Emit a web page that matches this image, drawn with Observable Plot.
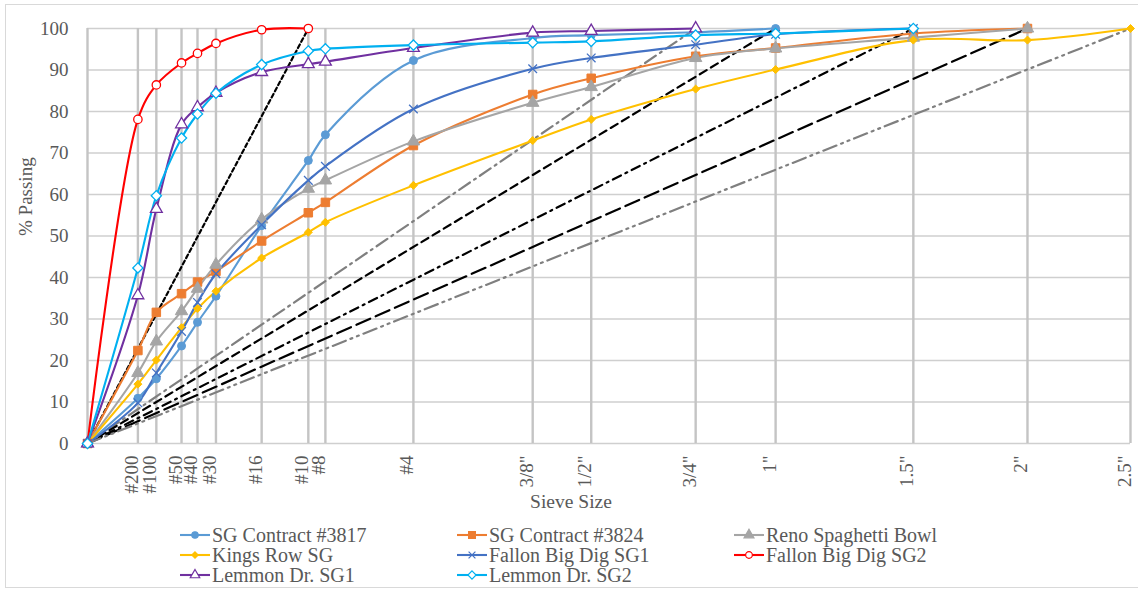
<!DOCTYPE html>
<html><head><meta charset="utf-8">
<script src="https://cdn.jsdelivr.net/npm/d3@7"></script>
<script src="https://cdn.jsdelivr.net/npm/@observablehq/plot@0.6"></script>
<style>
body{margin:0;background:#fff;font-family:"Liberation Serif","Times New Roman",serif;}
#wrap{position:relative;width:1138px;height:590px;overflow:hidden;background:#fff;}
#frame{position:absolute;left:5px;top:4px;width:1140px;height:584px;border:1px solid #d9d9d9;box-sizing:border-box;}
#chart{position:absolute;left:0;top:0;}
.leg{position:absolute;display:flex;align-items:center;font-size:20px;color:#595959;white-space:nowrap;height:20px;}
.leg svg{margin-right:2px;}
</style></head><body>
<div id="wrap"><div id="frame"></div><div id="chart"></div><div id="legend"></div></div>
<script>
// Sieve sizes (mm) and their labels
const sieveLabels = ["#200","#100","#50","#40","#30","#16","#10","#8","#4","3/8\"","1/2\"","3/4\"","1\"","1.5\"","2\"","2.5\""];
const sieveSizes  = [0.075, 0.15, 0.3, 0.425, 0.6, 1.18, 2.0, 2.36, 4.75, 9.5, 12.5, 19, 25, 37.5, 50, 63];
const yTicks = [0,10,20,30,40,50,60,70,80,90,100];

// % passing per sieve (in sieve order, starting at #200); every series also starts at (0,0)
const sg3817   = [10.9, 15.6, 23.5, 29.2, 35.5, 52.5, 68.2, 74.4, 92.3, 97.7, 98.4, 99.1, 100];
const sg3824   = [22.4, 31.6, 36.1, 38.9, 41.5, 48.8, 55.6, 58.1, 71.8, 84.1, 88.0, 93.3, 95.3, 98.8, 100];
const reno     = [17.0, 24.6, 31.9, 37.3, 43.1, 54.0, 61.4, 63.4, 72.8, 82.1, 85.9, 92.9, 95.2, 97.8, 100];
const kingsRow = [14.3, 20.1, 27.9, 32.5, 36.7, 44.7, 50.9, 53.3, 62.2, 73.0, 78.1, 85.4, 90.1, 97.2, 97.2, 100];
const fallon1  = [9.8, 17.0, 27.0, 34.0, 40.9, 52.7, 63.4, 66.8, 80.6, 90.3, 92.9, 96.1, 98.6, 100];
const fallon2  = [78.1, 86.4, 91.7, 94.0, 96.4, 99.7, 100];
const lemmon1  = [35.7, 56.5, 76.9, 81.0, 84.5, 89.5, 91.4, 92.0, 95.3, 99.0, 99.4, 100];
const lemmon2  = [42.3, 59.7, 73.6, 79.4, 84.4, 91.3, 94.6, 95.1, 96.0, 96.6, 96.9, 98.4, 98.8, 100];

const seriesNames = ["SG Contract #3817","SG Contract #3824","Reno Spaghetti Bowl","Kings Row SG","Fallon Big Dig SG1","Fallon Big Dig SG2","Lemmon Dr. SG1","Lemmon Dr. SG2"];
const seriesValues = [sg3817, sg3824, reno, kingsRow, fallon1, fallon2, lemmon1, lemmon2];
const seriesColors = ["#5B9BD5","#ED7D31","#A5A5A5","#FFC000","#4472C4","#FF0000","#7030A0","#00B0F0"];
const seriesSymbols = ["circle","square","triangle","diamond2","times","circle","triangle","diamond2"];
const seriesOpen = [false,false,false,false,false,true,true,true];
const seriesR = [4,4.8,4.6,3.6,4,4.2,4.4,4.6];

// Maximum density lines: max size (mm) reaching 100%
const maxDensitySizes = [2.0, 19, 25, 37.5, 50, 63];
const maxDensityColors = ["#000","#7f7f7f","#000","#000","#000","#7f7f7f"];
const maxDensityDash = ["4,3","13,5,2,5","8,5","9,5,2,5","15,6","14,5,2,5,2,5"];

const font = "'Liberation Serif', 'Times New Roman', serif";
const txt = "#595959";

const marks = [];
marks.push(Plot.ruleY(yTicks, {stroke:"#cfcfcf", strokeWidth:1.6}));
marks.push(Plot.ruleX([0, ...sieveSizes], {stroke:"#c4c4c4", strokeWidth:2.4}));

maxDensitySizes.forEach((d, i) => {
  marks.push(Plot.line([{x:0,y:0},{x:d,y:100}], {x:"x", y:"y", stroke:maxDensityColors[i], strokeWidth:2.2, strokeDasharray:maxDensityDash[i]}));
});

seriesValues.forEach((vals, i) => {
  const pts = [{x:0,y:0}, ...vals.map((v, j) => ({x: sieveSizes[j], y: v}))];
  marks.push(Plot.line(pts, {x:"x", y:"y", stroke:seriesColors[i], strokeWidth:2.1, curve:"catmull-rom"}));
});
seriesValues.forEach((vals, i) => {
  const pts = [{x:0,y:0}, ...vals.map((v, j) => ({x: sieveSizes[j], y: v}))];
  const sym = seriesSymbols[i];
  const open = seriesOpen[i];
  marks.push(Plot.dot(pts, {x:"x", y:"y", symbol: sym, r: seriesR[i],
    fill: sym === "times" ? "none" : (open ? "white" : seriesColors[i]),
    stroke: seriesColors[i], strokeWidth: open || sym === "times" ? 1.3 : 1}));
});

// tick labels
marks.push(Plot.text(yTicks, {y: d => d, text: d => String(d), frameAnchor:"left", textAnchor:"end", dx:-19, fontSize:19, fill:txt, fontFamily:font}));
const sieveData = sieveSizes.map((s, i) => ({mm: s, label: sieveLabels[i]}));
marks.push(Plot.text(sieveData, {x:"mm", text:"label", frameAnchor:"bottom", rotate:-90, textAnchor:"end", dy:12, fontSize:19, fill:txt, fontFamily:font}));
// axis titles
marks.push(Plot.text(["% Passing"], {frameAnchor:"left", rotate:-90, dx:-62, fontSize:19, fill:txt, fontFamily:font}));
marks.push(Plot.text(["Sieve Size"], {frameAnchor:"bottom", dy:64, dx:-38, fontSize:19.5, fill:txt, fontFamily:font}));

const chart = Plot.plot({
  width: 1138, height: 520,
  marginLeft: 87, marginRight: 8, marginTop: 28, marginBottom: 77,
  x: {type:"pow", exponent:0.45, domain:[0,63], axis:null},
  y: {domain:[0,100], axis:null},
  style: {background:"transparent", fontFamily: font},
  marks
});
document.getElementById("chart").appendChild(chart);

// legend
const legendPos = [[212,535],[489,535],[766,535],[212,555],[489,555],[766,555],[212,575],[489,575]];
const legend = document.getElementById("legend");
seriesNames.forEach((name, i) => {
  const div = document.createElement("div");
  div.className = "leg";
  div.style.left = (legendPos[i][0] - 32) + "px";
  div.style.top = (legendPos[i][1] - 10) + "px";
  const sym = {circle:d3.symbolCircle, square:d3.symbolSquare, triangle:d3.symbolTriangle, diamond2:d3.symbolDiamond2, times:d3.symbolTimes}[seriesSymbols[i]];
  const r = seriesR[i] * 0.8;
  const path = d3.symbol(sym, r * r * Math.PI)();
  const open = seriesOpen[i];
  const fill = seriesSymbols[i] === "times" ? "none" : (open ? "white" : seriesColors[i]);
  div.innerHTML = `<svg width="30" height="20"><line x1="0" x2="30" y1="10" y2="10" stroke="${seriesColors[i]}" stroke-width="2.1"/><path transform="translate(15,10)" d="${path}" fill="${fill}" stroke="${seriesColors[i]}" stroke-width="1.2"/></svg><span>${name}</span>`;
  legend.appendChild(div);
});
</script>
</body></html>
